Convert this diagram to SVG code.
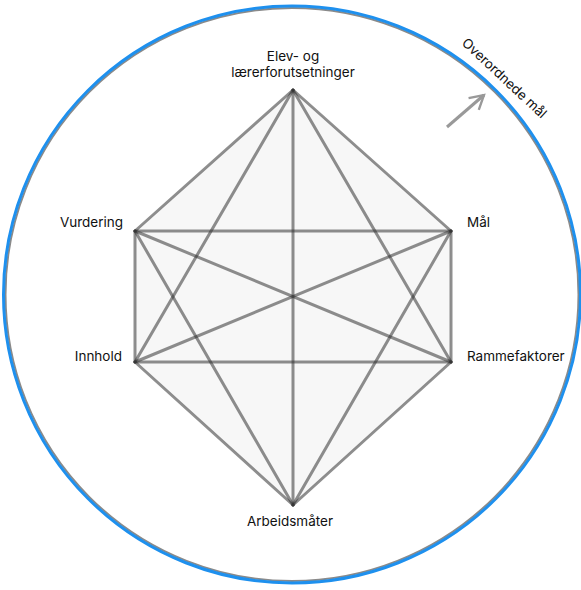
<svg xmlns="http://www.w3.org/2000/svg" width="581" height="590" viewBox="0 0 581 590">
<style>
.lbl{font-family:Inter,"Liberation Sans",sans-serif;font-size:13.5px;fill:#111}
.edge{stroke:#333;stroke-opacity:0.55;stroke-width:3;fill:none;stroke-linecap:round}
</style>
<defs>
<marker id="chev" viewBox="0 0 10 10" refX="8" refY="5" markerWidth="6.5" markerHeight="6.5" orient="auto" markerUnits="strokeWidth">
<path d="M1,1 L8,5 L1,9" fill="none" stroke="#999" stroke-width="1.2"/>
</marker>
</defs>
<rect width="581" height="590" fill="#fff"/>
<g id="outer">
<circle cx="292" cy="294.5" r="286.5" fill="none" stroke="#8a8a8a" stroke-width="2"/>
<circle cx="292" cy="294.5" r="288.5" fill="none" stroke="#1e90ee" stroke-width="3"/>
<text class="lbl" font-size="16.5" transform="translate(461,44) rotate(43)">Overordnede mål</text>
<line x1="447" y1="127" x2="484" y2="95" stroke="#999" stroke-width="3" marker-end="url(#chev)"/>
</g>
<polygon points="293,90 451,231 451,362 293,505 135,362 135,231" fill="#f7f7f7"/>
<g id="connectors">
<line class="edge" x1="293" y1="90" x2="135" y2="231"/>
<line class="edge" x1="293" y1="90" x2="451" y2="231"/>
<line class="edge" x1="293" y1="90" x2="135" y2="362"/>
<line class="edge" x1="293" y1="90" x2="451" y2="362"/>
<line class="edge" x1="293" y1="90" x2="293" y2="505"/>
<line class="edge" x1="135" y1="231" x2="451" y2="231"/>
<line class="edge" x1="135" y1="231" x2="135" y2="362"/>
<line class="edge" x1="135" y1="231" x2="451" y2="362"/>
<line class="edge" x1="135" y1="231" x2="293" y2="505"/>
<line class="edge" x1="451" y1="231" x2="135" y2="362"/>
<line class="edge" x1="451" y1="231" x2="451" y2="362"/>
<line class="edge" x1="451" y1="231" x2="293" y2="505"/>
<line class="edge" x1="135" y1="362" x2="451" y2="362"/>
<line class="edge" x1="135" y1="362" x2="293" y2="505"/>
<line class="edge" x1="451" y1="362" x2="293" y2="505"/>
</g>
<g id="node-elev"><text class="lbl" x="293" y="61" text-anchor="middle">Elev- og</text><text class="lbl" x="293" y="77" text-anchor="middle">lærerforutsetninger</text></g>
<g id="node-vurdering"><text class="lbl" x="123" y="227" text-anchor="end">Vurdering</text></g>
<g id="node-mal"><text class="lbl" x="467" y="227">Mål</text></g>
<g id="node-innhold"><text class="lbl" x="122" y="361" text-anchor="end">Innhold</text></g>
<g id="node-ramme"><text class="lbl" x="467" y="361">Rammefaktorer</text></g>
<g id="node-arbeid"><text class="lbl" x="290" y="526" text-anchor="middle">Arbeidsmåter</text></g>
</svg>
